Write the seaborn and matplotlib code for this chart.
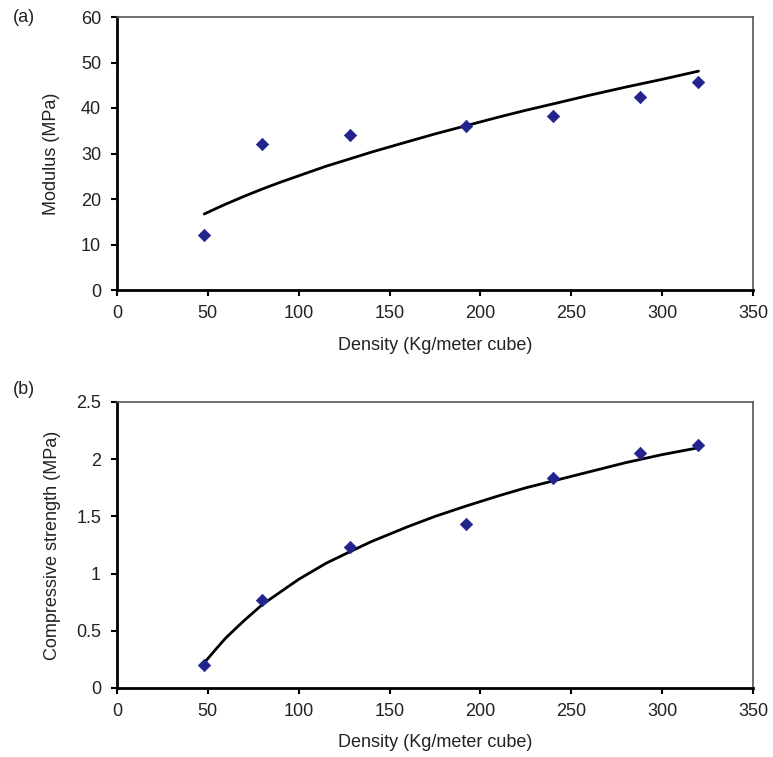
import matplotlib
matplotlib.use("Agg")
import matplotlib.pyplot as plt
import seaborn as sns
import pandas as pd

# --- data ---
density = [48, 80, 128, 192, 240, 288, 320]
modulus = [12.0, 32.0, 34.0, 36.0, 38.3, 42.5, 45.7]
strength = [0.20, 0.77, 1.23, 1.43, 1.84, 2.05, 2.12]

# trend curves
fit_density = [48, 55, 60, 70, 80, 90, 100, 115, 128, 140, 160, 175, 192,
               210, 225, 240, 260, 280, 300, 320]
fit_modulus = [16.7, 18.0, 18.9, 20.6, 22.2, 23.7, 25.1, 27.2, 28.8, 30.3, 32.6,
               34.3, 36.1, 38.0, 39.5, 40.9, 42.8, 44.6, 46.3, 48.1]
fit_strength = [0.22, 0.35, 0.44, 0.59, 0.73, 0.84, 0.95, 1.09, 1.19, 1.28, 1.41,
                1.50, 1.59, 1.68, 1.75, 1.81, 1.89, 1.97, 2.04, 2.10]

xticks = [0, 50, 100, 150, 200, 250, 300, 350]
yticks_a = [0, 10, 20, 30, 40, 50, 60]
yticks_b = [0, 0.5, 1, 1.5, 2, 2.5]
ytick_labels_b = ["0", "0.5", "1", "1.5", "2", "2.5"]

sns.set_theme(style="white")
plt.rcParams['font.family'] = ['Liberation Sans', 'DejaVu Sans']

pts = pd.DataFrame({"density": density, "modulus": modulus, "strength": strength})
fit_a = pd.DataFrame({"density": fit_density, "value": fit_modulus})
fit_b = pd.DataFrame({"density": fit_density, "value": fit_strength})

fig = plt.figure(figsize=(7.73, 7.57), dpi=100)
# axes in pixels: top plot x 117..753, y 17..290 ; bottom plot y 402..688
ax1 = fig.add_axes([117/773, 1 - 290/757, 636/773, 273/757])
ax2 = fig.add_axes([117/773, 1 - 688/757, 636/773, 286/757])

txt = "#222222"
mcol = "#23238C"
FS = 13

def style(ax, yticks, ylabels, ylim, ylabel, xlab_y, ylab_x):
    ax.set_xlim(0, 350)
    ax.set_ylim(*ylim)
    ax.set_xticks(xticks)
    ax.set_xticklabels([str(t) for t in xticks])
    ax.set_yticks(yticks)
    ax.set_yticklabels(ylabels)
    ax.tick_params(axis='both', which='both', direction='out', length=4.5, width=1.5,
                   colors='black', labelcolor=txt, labelsize=FS,
                   bottom=True, left=True, top=False, right=False)
    ax.tick_params(axis='x', pad=6)
    ax.tick_params(axis='y', pad=7)
    for s in ['left', 'bottom']:
        ax.spines[s].set_color('black')
        ax.spines[s].set_linewidth(2.0)
    for s in ['top', 'right']:
        ax.spines[s].set_color('#555555')
        ax.spines[s].set_linewidth(1.2)
    ax.set_xlabel("Density (Kg/meter cube)", fontsize=FS, color=txt)
    ax.set_ylabel(ylabel, fontsize=FS, color=txt)
    ax.xaxis.set_label_coords(0.5, xlab_y)
    ax.yaxis.set_label_coords(ylab_x, 0.5)

sns.lineplot(data=fit_a, x="density", y="value", ax=ax1, color="black", linewidth=2.0)
sns.scatterplot(data=pts, x="density", y="modulus", ax=ax1, marker="D", s=40,
                color=mcol, edgecolor=mcol, zorder=3)
style(ax1, yticks_a, [str(t) for t in yticks_a], (0, 60), "Modulus (MPa)",
      -(337 - 290) / 273, (60 - 117) / 636)

sns.lineplot(data=fit_b, x="density", y="value", ax=ax2, color="black", linewidth=2.0)
sns.scatterplot(data=pts, x="density", y="strength", ax=ax2, marker="D", s=40,
                color=mcol, edgecolor=mcol, zorder=3)
style(ax2, yticks_b, ytick_labels_b, (0, 2.5), "Compressive strength (MPa)",
      -(734 - 688) / 286, (61 - 117) / 636)

fig.text(13/773, 1 - 18/757, "(a)", fontsize=FS, color=txt, va='center', ha='left')
fig.text(13/773, 1 - 390/757, "(b)", fontsize=FS, color=txt, va='center', ha='left')

fig.savefig("out.png", dpi=100)
